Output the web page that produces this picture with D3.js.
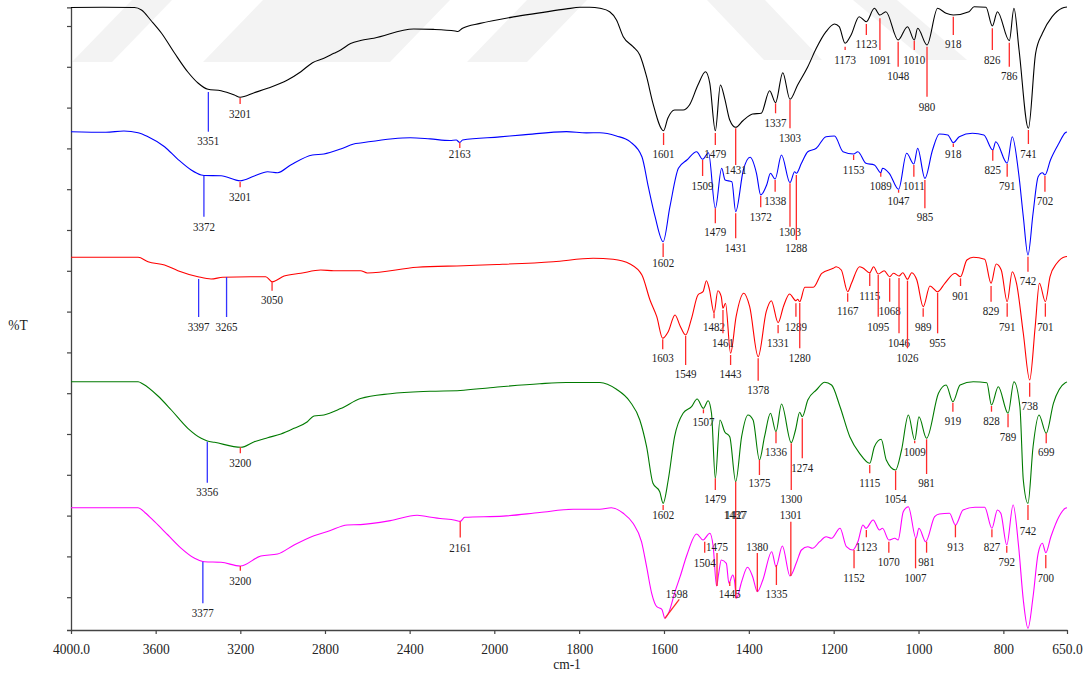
<!DOCTYPE html>
<html><head><meta charset="utf-8">
<script src="https://cdn.jsdelivr.net/npm/d3@7"></script>
<style>body{margin:0;background:#fff}svg{display:block}</style>
</head><body>
<svg id="c" width="1092" height="673"></svg>
<script>
// ---------- DATA ----------
const wavenumberTicks = [4000,3600,3200,2800,2400,2000,1800,1600,1400,1200,1000,800,650];
const tickLabels = ["4000.0","3600","3200","2800","2400","2000","1800","1600","1400","1200","1000","800","650.0"];
const transmittanceTicks = [32.8,73.6,114.4,155.2,196,236.8,277.6,318.4,359.2,400,440.8,481.6,522.4,563.2,604];
const xTitle = "cm-1";
const yTitle = "%T";

// spectra: [wavenumber, %T (stacked, arbitrary offset units)]
const spectrum1 = [[4000,622.5],[3850,622.7],[3700,622.5],[3667,620],[3620,609],[3573,597],[3511,577],[3448,558],[3400,547],[3353,540.7],[3291,539.3],[3228,535],[3201,532.7],[3134,537.3],[3071,541.7],[2977,550],[2914,558.3],[2859,567.3],[2805,571.7],[2758,576.7],[2726,580],[2679,586.5],[2632,589.5],[2569,591.8],[2381,601],[2287,600.6],[2185,599],[2172,598.5],[2150,601.8],[2067,606.6],[1955,613.1],[1893,617.1],[1830,621.1],[1798,622.7],[1775,622.8],[1751,621.7],[1728,618.3],[1712,610],[1696,593.3],[1673,583.3],[1657,575],[1641,553.3],[1626,526.7],[1601,499.3],[1591,511.7],[1575,520],[1555,520],[1540,525],[1520,545],[1502,558.3],[1492,546.7],[1479,499.3],[1467,545],[1457,531.7],[1445,510],[1431,502.7],[1414,509.3],[1391,516],[1371,516.7],[1351,539.3],[1337,527.3],[1320,557.3],[1303,530.7],[1285,545],[1261,563.3],[1241,581.7],[1218,598.3],[1198,606],[1187,603.3],[1173,586.7],[1159,595],[1140,613.3],[1123,608.3],[1104,621.7],[1091,615],[1077,618.3],[1048,590],[1026,603.3],[1010,590],[1002,601.7],[980,585],[955,621.7],[935,616.7],[918,615],[881,618.3],[869,623.3],[841,622.7],[826,604],[814,618.3],[786,589.3],[775,621.7],[763,580],[741,501.7],[724,576.7],[708,596.7],[685,613.3],[662,621.7],[650,623]];

const spectrum2 = [[4000,498.3],[3835,497.7],[3750,499],[3683,497.3],[3636,493.3],[3558,483.3],[3495,470.7],[3432,460],[3385,455],[3372,454.5],[3291,454.3],[3201,449.3],[3134,454],[3071,458.3],[3024,457.3],[2962,465],[2859,475],[2805,476],[2726,481],[2664,486],[2632,487],[2397,492.3],[2303,491.1],[2209,489.5],[2180,490],[2163,487.5],[2150,490],[1987,493.1],[1932,495.1],[1830,498.4],[1783,497.1],[1751,497.3],[1712,494],[1680,488.3],[1652,473.3],[1637,443.3],[1621,413.3],[1602,388.3],[1586,423.3],[1566,461.7],[1546,470],[1523,478.3],[1509,470.7],[1495,477.3],[1479,421.7],[1464,461.7],[1456,450],[1440,448.3],[1431,418.3],[1413,460],[1397,472.7],[1382,456.7],[1372,435],[1358,445],[1349,456.7],[1338,451],[1323,475],[1303,447.3],[1292,458.3],[1288,456.7],[1276,466.7],[1261,478.3],[1241,481.7],[1218,493.3],[1198,494],[1178,478.3],[1153,476],[1143,478.3],[1124,466.7],[1104,465],[1089,457.3],[1085,461.7],[1069,456.7],[1047,440.7],[1028,476.7],[1011,466],[1002,481.7],[985,451.7],[967,480],[951,496],[931,495],[918,487.3],[904,493.3],[873,496.7],[846,495],[825,480],[818,488.3],[791,466.7],[779,493.3],[764,456.7],[753,413.3],[742,375],[730,416.7],[718,453.3],[708,457.3],[702,455],[689,470],[669,486.7],[654,497.3],[650,498]];

const spectrum3 = [[4000,372.7],[3683,372.7],[3636,368.3],[3558,365],[3495,359.3],[3400,353.3],[3338,351],[3283,352.7],[3150,353.3],[3080,353.3],[3050,348.3],[2993,354],[2914,356.7],[2820,360],[2758,359.3],[2632,359.3],[2600,357],[2365,362.7],[2146,364.3],[1994,365.5],[1861,368.3],[1767,371.7],[1720,370.7],[1680,366],[1652,355],[1633,330],[1617,313.3],[1603,291.7],[1590,298.3],[1574,315],[1562,304],[1549,295],[1535,311.7],[1520,335],[1508,338.3],[1500,349.3],[1493,340.7],[1482,317.3],[1473,339.3],[1465,333.3],[1461,321.7],[1455,326.7],[1443,276.7],[1430,313.3],[1412,336.7],[1398,323.3],[1378,273.3],[1359,318.3],[1347,329.3],[1331,307.3],[1318,324],[1304,336],[1289,329.3],[1285,330.7],[1280,328.3],[1268,342.7],[1248,342.7],[1228,356.7],[1201,361.7],[1194,363.3],[1182,360],[1167,338.3],[1158,346.7],[1139,363.3],[1130,361.7],[1115,357.3],[1106,363.3],[1095,356],[1081,359.3],[1068,353.3],[1059,356.7],[1046,354],[1037,357.3],[1026,350.7],[1016,357.3],[1004,350],[989,323.3],[973,344],[955,338.3],[938,346.7],[914,356.7],[901,353.3],[886,370],[871,372.7],[844,370.7],[829,346.7],[817,366],[805,360],[791,328.3],[779,358.3],[769,346.7],[753,296.7],[738,250],[725,303.3],[715,346.7],[701,328.3],[690,353.3],[674,366.7],[654,373.3],[650,373.5]];

const spectrum4 = [[4000,248.3],[3683,248.3],[3660,246],[3589,234],[3526,220],[3448,201.7],[3385,191.7],[3356,189],[3322,187.7],[3197,182.7],[3134,188.3],[3071,192.3],[3008,196],[2946,201.7],[2883,208.3],[2852,214],[2805,215],[2726,221.4],[2632,231.4],[2491,236.3],[2303,238.7],[2161,239.5],[2020,242.3],[1893,246.3],[1830,247.5],[1751,247.5],[1712,240.7],[1680,228.3],[1657,210],[1641,183.3],[1626,146.7],[1610,138.3],[1602,126.7],[1590,150],[1575,193.3],[1555,216.7],[1535,223.3],[1522,231],[1507,221.7],[1496,229.3],[1488,216.7],[1479,151.7],[1468,210],[1457,198.3],[1445,193.3],[1431,148.3],[1417,193.3],[1402,215],[1390,210],[1375,170],[1363,193.3],[1349,216.7],[1336,198.3],[1323,226],[1300,187.3],[1290,200],[1280,217.7],[1274,213.3],[1261,230],[1241,240],[1221,247.7],[1205,245],[1185,223.3],[1162,193.3],[1139,176.7],[1115,166.7],[1104,183.3],[1088,190.7],[1076,170],[1054,160],[1040,180],[1024,215],[1009,190],[999,213.3],[981,191.7],[953,236.7],[935,245],[919,228.3],[902,245],[871,248.3],[839,247.3],[828,225],[812,243.3],[789,216.7],[775,248.3],[761,223.3],[753,150],[742,126.7],[730,183.3],[716,215],[699,196.7],[682,226.7],[654,247.3],[650,248]];

const spectrum5 = [[4000,122.3],[3683,122.3],[3650,117.3],[3605,108.3],[3542,95],[3479,81.7],[3416,71.7],[3377,68.5],[3369,68.3],[3291,67.7],[3200,64],[3103,74],[3024,76],[2946,85],[2852,94.3],[2781,99],[2695,105],[2632,105.4],[2491,109.4],[2365,114.7],[2320,113.5],[2256,111.5],[2185,109.8],[2161,108.6],[2140,112.7],[1979,113.9],[1893,117.5],[1814,120.7],[1751,120.7],[1724,122.3],[1696,116.7],[1673,106.7],[1653,88.3],[1641,63.3],[1629,36.7],[1617,23.3],[1605,20.7],[1598,11.7],[1588,18.3],[1574,38.3],[1562,53.3],[1546,75],[1523,96],[1508,90],[1492,96.7],[1484,83.3],[1476,44],[1471,56.7],[1465,70],[1453,66.7],[1447,46.7],[1438,55],[1434,50],[1429,31.7],[1417,48.3],[1403,62.7],[1391,53.3],[1380,38.3],[1367,50],[1346,78.3],[1336,63.3],[1321,84],[1303,54],[1287,68.3],[1276,80],[1261,83.3],[1250,81.7],[1233,88.3],[1218,93.3],[1205,91.7],[1185,101.7],[1170,83.3],[1155,80],[1143,88.3],[1131,105],[1124,101.7],[1107,110],[1092,100],[1085,101.7],[1070,90],[1056,91.7],[1048,90],[1036,118.3],[1024,123.3],[1006,91.7],[999,101.7],[983,88.3],[962,113.3],[951,116],[927,116.7],[913,105],[895,120],[867,122.7],[844,122.7],[827,101.7],[814,120],[806,116.7],[792,85],[777,125],[764,83.3],[753,30],[742,1.7],[730,33.3],[718,76.7],[708,86.7],[700,77.3],[688,93.3],[669,113.3],[654,121.7],[650,122.3]];

// peak marks: [wavenumber, label, from, to, labelLevel, kind, wavenumberTo, wavenumberLabel]
const peaks1 = [[3351,"3351",538,498.3,489,"b"],[3201,"3201",532,526,516.3,"r"],[1601,"1601",497,485,476,"r"],[1479,"1479",497,485,476,"r"],[1431,"1431",501.7,465,460,"r"],[1337,"1337",526.7,516.7,507.3,"r"],[1303,"1303",530,501.7,492.3,"r"],[1173,"1173",583.3,580,570,"r"],[1123,"1123",606,595,586,"r"],[1091,"1091",611.7,580,570,"r"],[1048,"1048",588.3,563.3,554,"r"],[1010,"1010",589.3,580,570,"r"],[980,"980",583.3,533.3,523.3,"r"],[918,"918",613.3,595,586,"r"],[826,"826",601.7,580,570,"r"],[786,"786",587.3,563.3,554,"r"],[741,"741",500,486,476,"r"]];
const peaks2 = [[3372,"3372",454,413.3,403.3,"b"],[3201,"3201",448.3,442.7,433.3,"r"],[2163,"2163",487.5,482,475.8,"r"],[1602,"1602",386.7,373,366.7,"r"],[1509,"1509",470,454,444.3,"r"],[1479,"1479",421.7,406.7,397.7,"r"],[1431,"1431",416.7,391.7,381.7,"r"],[1372,"1372",434,422.7,413,"r"],[1338,"1338",450,438.3,429,"r"],[1303,"1303",446.7,403.3,397.7,"r"],[1288,"1288",455,390,381.7,"r"],[1153,"1153",475,470,460,"r"],[1089,"1089",457.3,453.3,444.3,"r"],[1047,"1047",440,437.3,429,"r"],[1011,"1011",465,453.3,444.3,"r"],[985,"985",450,421.7,413,"r"],[918,"918",486.5,483,476,"r"],[825,"825",480,469.3,460,"r"],[791,"791",466,453.3,444.3,"r"],[742,"742",373.3,358.3,349.3,"r"],[702,"702",454,438.3,429,"r"]];
const peaks3 = [[3397,"3397",351,313,303,"b"],[3265,"3265",353,313,303,"b"],[3050,"3050",348.3,339.3,330,"r"],[1603,"1603",290.7,280.7,272.3,"r"],[1549,"1549",294,265,256,"r"],[1482,"1482",316.7,311.7,302.7,"r"],[1461,"1461",320,296.7,287.3,"r"],[1443,"1443",275,265,256,"r"],[1378,"1378",271.7,249.3,240,"r"],[1331,"1331",305,296.7,287.3,"r"],[1289,"1289",326.7,313.3,302.7,"r"],[1280,"1280",327,281.7,272.3,"r"],[1167,"1167",336.7,328.3,319,"r"],[1115,"1115",356.7,344,334.3,"r"],[1095,"1095",355,313.3,302.7,"r"],[1068,"1068",351.7,328.3,319,"r"],[1046,"1046",352,296.7,287.3,"r"],[1026,"1026",349.3,281.7,272.3,"r"],[989,"989",321.7,313.3,302.7,"r"],[955,"955",337.3,296.7,287.3,"r"],[901,"901",351.7,344,334.3,"r"],[829,"829",344,328.3,319,"r"],[791,"791",326.7,313.3,302.7,"r"],[738,"738",247.3,233.3,224.3,"r"],[701,"701",326.7,313.3,302.7,"r"]];
const peaks4 = [[3356,"3356",188.3,147.3,137.7,"b"],[3200,"3200",182.7,176.7,167.3,"r"],[1602,"1602",125,120,115,"r"],[1507,"1507",220.7,216.7,208.3,"r"],[1479,"1479",151.7,140,130.7,"r"],[1431,"1437",148.3,115,115,"r",1431,1433],[1375,"1375",170,155,146.7,"r"],[1336,"1336",198.3,186.7,177.7,"r"],[1300,"1300",186.7,140,130.7,"r"],[1274,"1274",211.7,171.7,161.7,"r"],[1115,"1115",165,156.7,146.7,"r"],[1054,"1054",159.3,140,130.7,"r"],[1009,"1009",189.3,186.7,177.7,"r"],[981,"981",190.7,156,146.7,"r"],[919,"919",227.3,218.3,209,"r"],[828,"828",224,218.3,209,"r"],[789,"789",216,202.7,193.3,"r"],[742,"742",125,110,99.3,"r"],[699,"699",196.7,186.7,177.7,"r"]];
const peaks5 = [[3377,"3377",68.3,26.7,16.7,"b"],[3200,"3200",64,59.3,49.3,"r"],[2161,"2161",108.6,92.5,82.5,"r"],[1598,"1598",11.7,30.7,35.7,"r",1564,1570],[1504,"1504",88.3,77.3,67.3,"r"],[1475,"1475",44,77,83.3,"r"],[1445,"1445",48.3,44,35.7,"r"],[1431,"1427",31.7,115,115,"r",1431,1430],[1380,"1380",38.3,77,83.3,"r"],[1335,"1335",65,45,35.7,"r"],[1301,"1301",54,108.3,115,"r"],[1152,"1152",80,61.7,51.7,"r"],[1123,"1123",100,92.7,83.3,"r"],[1070,"1070",88.3,77.3,67.7,"r"],[1007,"1007",91.7,61.7,51.7,"r"],[981,"981",88.3,77.3,67.7,"r"],[913,"913",105,92.7,83.3,"r"],[827,"827",100.7,92.7,83.3,"r"],[792,"792",84,77.3,67.7,"r"],[700,"700",75,61.7,51.7,"r"]];

// ---------- STYLE / LAYOUT ----------
const seriesList = [
  {data: spectrum1, peaks: peaks1, color: "#000000"},
  {data: spectrum2, peaks: peaks2, color: "#0000ff"},
  {data: spectrum3, peaks: peaks3, color: "#ff0000"},
  {data: spectrum4, peaks: peaks4, color: "#007a00"},
  {data: spectrum5, peaks: peaks5, color: "#ff00ff"}
];
const markColor = {r: "#ff2a2a", b: "#3333ff"};
const FONT = "'Times New Roman','Liberation Serif',serif";
const STRETCH = 1.15;

const svg = d3.select("#c");
const x = d3.scaleLinear().domain([4000, 2000, 650]).range([71, 494.3, 1067]);
const y = d3.scaleLinear().domain([0, 622.7]).range([630, 7.3]);

// faint watermark in background
const wm = svg.append("g").attr("fill", "#f3f3f3");
[
  [[72,62],[112,62],[172,0],[132,0]],
  [[203,62],[390,62],[450,0],[263,0]],
  [[467,62],[527,62],[587,0],[527,0]],
  [[707,0],[765,0],[822,60],[764,60]],
  [[853,0],[897,0],[967,60],[925,60]]
].forEach(p => wm.append("polygon").attr("points", p.map(q => q.join(",")).join(" ")));

// axes
const xAxis = d3.axisBottom(x).tickValues(wavenumberTicks)
  .tickFormat((d, i) => tickLabels[i]).tickSize(4).tickSizeOuter(0);
const gx = svg.append("g").attr("transform", `translate(0,${y(0)})`).call(xAxis);
gx.select(".domain").attr("stroke", "#444").attr("stroke-width", 1.3);
gx.selectAll(".tick line").attr("stroke", "#444").attr("stroke-width", 1.2);
gx.selectAll(".tick text")
  .attr("y", null).attr("dy", "0.33em")
  .attr("transform", `translate(0,18.5) scale(1,${STRETCH})`)
  .attr("font-family", FONT).attr("font-size", 13.5).attr("fill", "#222");

const yAxis = d3.axisLeft(y).tickValues(transmittanceTicks).tickFormat("").tickSize(4).tickSizeOuter(4);
const gy = svg.append("g").attr("transform", `translate(${x(4000)},0)`).call(yAxis);
gy.select(".domain").attr("stroke", "#444").attr("stroke-width", 1.3);
gy.selectAll(".tick line").attr("stroke", "#444").attr("stroke-width", 1.2);

svg.append("text").attr("transform", `translate(567,664) scale(1,${STRETCH})`).attr("dy", "0.33em")
  .attr("text-anchor", "middle").attr("font-family", FONT).attr("font-size", 13.5).attr("fill", "#222").text(xTitle);
svg.append("text").attr("transform", `translate(18,325) scale(1,${STRETCH})`).attr("dy", "0.33em")
  .attr("text-anchor", "middle").attr("font-family", FONT).attr("font-size", 13.5).attr("fill", "#222").text(yTitle);

// spectra
const line = d3.line().x(d => x(d[0])).y(d => y(d[1])).curve(d3.curveMonotoneX);
const gs = svg.append("g");
seriesList.forEach(s => {
  gs.append("path").datum(s.data).attr("d", line)
    .attr("fill", "none").attr("stroke", s.color).attr("stroke-width", 1.1).attr("stroke-linejoin", "round");
});

// peak marks + labels
const gp = svg.append("g");
seriesList.forEach(s => {
  s.peaks.forEach(p => {
    const [wn, label, from, to, lab, kind, wnTo, wnLab] = p;
    const x1 = x(wn), x2 = x(wnTo ?? wn), xl = x(wnLab ?? (wnTo ?? wn));
    gp.append("line").attr("x1", x1).attr("x2", x2).attr("y1", y(from)).attr("y2", y(to))
      .attr("stroke", markColor[kind]).attr("stroke-width", 1.3);
    gp.append("text").attr("transform", `translate(${xl},${y(lab)}) scale(1,${STRETCH})`)
      .attr("dy", "0.33em").attr("text-anchor", "middle")
      .attr("font-family", FONT).attr("font-size", 11).attr("fill", "#222").text(label);
  });
});
</script>
</body></html>
